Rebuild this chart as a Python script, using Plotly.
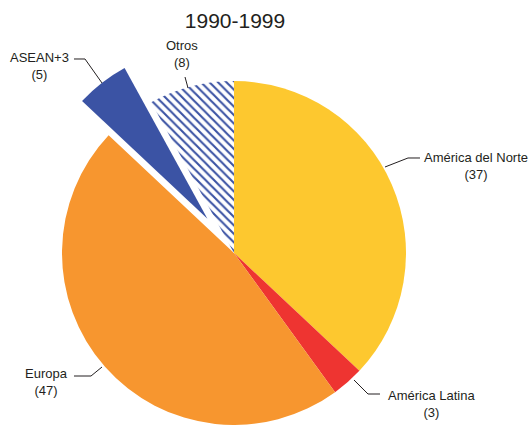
import math
import plotly.graph_objects as go

# Regional shares, 1990-1999
labels = ["América del Norte", "América Latina", "Europa", "ASEAN+3", "Otros"]
values = [37, 3, 47, 5, 8]
colors = ["#FDC82F", "#EE3431", "#F7962F", "#3B53A4", "#FFFFFF"]
hatch = ["", "", "", "", "\\"]
title_text = "1990-1999"
pulled_label = "ASEAN+3"

# Canvas and pie geometry (pixels)
W, H = 530, 425
CX, CY, R = 234, 253, 172
PULL = 0.252
FONT = "Liberation Sans, Arial, sans-serif"
INK = "#231F20"

# Label anchors (pixel centre of text block) and leader-line paths
label_style = {
    "América del Norte": dict(xy=(476, 166), path=[(420, 158), (408, 158), (385, 167)]),
    "América Latina": dict(xy=(431, 404), path=[(380, 394), (368, 394), (354, 380)]),
    "Europa": dict(xy=(46, 382), path=[(74, 376), (91, 376), (102, 367)]),
    "ASEAN+3": dict(xy=(39, 66), path=[(74, 59), (85, 59), (102, 83)]),
    "Otros": dict(xy=(182, 54), path=[(185, 77), (188, 88)]),
}


def px(x):
    return x / W


def py(y):
    return 1 - y / H


def domain(cx, cy, r):
    return dict(x=[(cx - r) / W, (cx + r) / W], y=[(H - cy - r) / H, (H - cy + r) / H])


# Offset of the exploded slice along its bisector (clockwise from 12 o'clock)
total = sum(values)
k = labels.index(pulled_label)
mid = (sum(values[:k]) + values[k] / 2) / total * 2 * math.pi
dx = PULL * R * math.sin(mid)
dy = -PULL * R * math.cos(mid)

clear = "rgba(0,0,0,0)"
base_colors = [clear if l == pulled_label else c for l, c in zip(labels, colors)]
pulled_colors = [c if l == pulled_label else clear for l, c in zip(labels, colors)]

common = dict(
    labels=labels,
    values=values,
    sort=False,
    direction="clockwise",
    rotation=0,
    textinfo="none",
    hoverinfo="label+value",
    showlegend=False,
)

fig = go.Figure()
fig.add_trace(go.Pie(
    **common,
    domain=domain(CX, CY, R),
    marker=dict(
        colors=base_colors,
        line=dict(width=0),
        pattern=dict(shape=hatch, fgcolor="#3B53A4", bgcolor="#FFFFFF",
                     size=6, solidity=0.35, fillmode="replace"),
    ),
))
fig.add_trace(go.Pie(
    **common,
    domain=domain(CX + dx, CY + dy, R),
    marker=dict(colors=pulled_colors, line=dict(width=0)),
))

annotations = []
shapes = []
for lab, val in zip(labels, values):
    st = label_style[lab]
    x, y = st["xy"]
    annotations.append(dict(
        x=px(x), y=py(y), xref="paper", yref="paper",
        xanchor="center", yanchor="middle", align="center",
        text=f"{lab}<br>({val})", showarrow=False,
        font=dict(family=FONT, size=13, color=INK),
    ))
    pts = st["path"]
    d = "M " + " L ".join(f"{px(a):.5f},{py(b):.5f}" for a, b in pts)
    shapes.append(dict(type="path", path=d, xref="paper", yref="paper",
                       line=dict(color=INK, width=1)))

fig.update_layout(
    width=W,
    height=H,
    margin=dict(l=0, r=0, t=0, b=0),
    paper_bgcolor="#FFFFFF",
    plot_bgcolor="#FFFFFF",
    title=dict(text=title_text, x=px(235), y=py(21), xanchor="center", yanchor="middle",
               font=dict(family=FONT, size=21, color=INK)),
    annotations=annotations,
    shapes=shapes,
)

fig.write_html("out.html")
